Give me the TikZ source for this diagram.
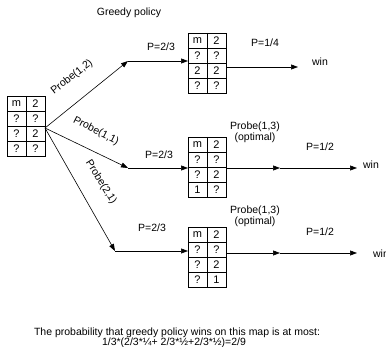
\documentclass[tikz,border=0pt]{standalone}
\usepackage{fontspec}
\setmainfont{Liberation Sans}
\usetikzlibrary{arrows.meta,calc}
\tikzset{
  gridbox/.style={draw=black, line width=0.8pt, minimum width=38pt, minimum height=60pt, inner sep=0pt, outer sep=0pt},
  gridline/.style={draw=black, line width=0.8pt},
  celltext/.style={font=\fontsize{11}{11}\selectfont, inner sep=0pt},
  lbl/.style={font=\fontsize{10.5}{11}\selectfont, inner sep=0pt, align=center},
  note/.style={font=\fontsize{10.5}{10}\selectfont, inner sep=0pt},
  link/.style={draw=black, line width=0.6pt, -{Triangle[length=7pt,width=5pt]}},
}
% a 2x4 board: name, centre, eight entries row by row
\newcommand\boardgrid[3]{%
  \node[gridbox] (#1) at (#2) {};
  \draw[gridline] (#1.north) -- (#1.south);
  \foreach \r in {1,2,3}
    \draw[gridline] ($(#1.north west)!\r/4!(#1.south west)$) -- ($(#1.north east)!\r/4!(#1.south east)$);
  \foreach \t [count=\k from 0] in {#3} {
    \pgfmathtruncatemacro\row{\k/2}
    \pgfmathtruncatemacro\col{mod(\k,2)}
    \node[celltext] (#1-\k) at ($(#1.north west)+(\col*19+9.5,\row*15+7.5)$) {\t};
  }%
}
\begin{document}
\begin{tikzpicture}[x=1pt,y=-1pt]
  \useasboundingbox (0,0) rectangle (386,347);
  \clip (0,0) rectangle (386,347);

  \boardgrid{s}{26,126}{m,2,?,?,?,2,?,?}
  \boardgrid{g1}{207,63}{m,2,?,?,2,2,?,?}
  \boardgrid{g2}{207,167}{m,2,?,?,?,2,1,?}
  \boardgrid{g3}{207,257}{m,2,?,?,?,2,?,1}

  % junctions and free ends
  \coordinate (o) at ($(s.east)+(0,2)$);
  \coordinate (j1) at (128,61);
  \coordinate (j2) at (128,168);
  \coordinate (j3) at (115,251);
  \coordinate (e1) at (298,67);
  \coordinate (m2) at (280,168);
  \coordinate (e2) at (357,168);
  \coordinate (m3) at (280,253);
  \coordinate (e3) at (357,253);

  % probes out of the first board
  \draw[link] (o) -- (j1);
  \draw[link] (o) -- (j2);
  \draw[link] (o) -- (j3);
  \draw[link] (j1) -- (j1 -| g1.west);
  \draw[link] (j2) -- (j2 -| g2.west);
  \draw[link] (j3) -- (j3 -| g3.west);

  % onward to a win
  \draw[link] (g1.east |- e1) -- (e1);
  \draw[link] (g2.east |- m2) -- (m2);
  \draw[link] (m2) -- (e2);
  \draw[link] (g3.east |- m3) -- (m3);
  \draw[link] (m3) -- (e3);

  \node[lbl] (win1) at (320,62) {win};
  \node[lbl] (win2) at (371,165) {win};
  \node[lbl] (win3) at (381,254) {win};

  % labels
  \node[lbl] (title) at (129,13) {Greedy policy};
  \node[lbl] (p1) at (161,47) {P=2/3};
  \node[lbl] (q1) at (265,43) {P=1/4};
  \node[lbl, rotate=38] (pr12) at (72,77) {Probe(1,2)};
  \node[lbl, rotate=-27] (pr11) at (96,131) {Probe(1,1)};
  \node[lbl, rotate=-58] (pr21) at (101,182) {Probe(2,1)};
  \node[lbl] (p2) at (159,155) {P=2/3};
  \node[lbl] (o2) at (255,132) {Probe(1,3)\\(optimal)};
  \node[lbl] (q2) at (320,147) {P=1/2};
  \node[lbl] (p3) at (152,228) {P=2/3};
  \node[lbl] (o3) at (255,216) {Probe(1,3)\\(optimal)};
  \node[lbl] (q3) at (320,232) {P=1/2};

  \node[note] (sum1) at (177,333) {The probability that greedy policy wins on this map is at most:};
  \node[note] (sum2) at (174,342.5) {1/3*(2/3*¼+ 2/3*½+2/3*½)=2/9};
\end{tikzpicture}
\end{document}
